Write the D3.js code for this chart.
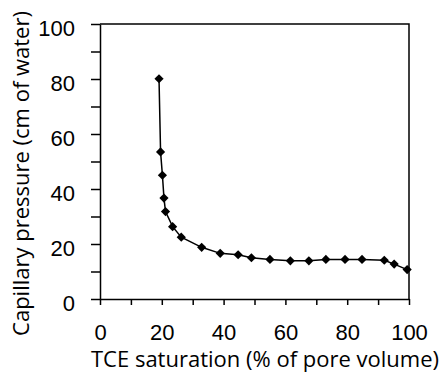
<!DOCTYPE html>
<html>
<head>
<meta charset="utf-8">
<script src="https://cdn.jsdelivr.net/npm/d3@7"></script>
<style>
  html, body { margin: 0; padding: 0; background: #fff; }
  svg { display: block; font-family: "Open Sans", Lato, sans-serif; }
</style>
</head>
<body>
<svg id="chart" width="440" height="373"></svg>
<script>
// Capillary pressure vs. TCE saturation
const saturation = [19.1, 19.6, 20.2, 20.7, 21.2, 23.5, 26.3, 32.9, 38.9, 44.7, 49.0, 55.0, 61.6, 67.6, 73.1, 79.3, 84.8, 92.0, 95.2, 99.4];
const pressure   = [80.1, 53.5, 45.0, 36.7, 31.8, 26.3, 22.5, 18.8, 16.6, 16.1, 15.0, 14.4, 13.9, 13.9, 14.4, 14.4, 14.4, 14.1, 12.7, 10.7];
const xTicks = [0, 10, 20, 30, 40, 50, 60, 70, 80, 90, 100];
const yTicks = [0, 10, 20, 30, 40, 50, 60, 70, 80, 90, 100];
const xLabel = "TCE saturation (% of pore volume)";
const yLabel = "Capillary pressure (cm of water)";

const svg = d3.select("#chart");
const margin = { left: 100, top: 24, right: 31, bottom: 74 };
const W = 440, H = 373;
const x = d3.scaleLinear().domain([0, 100]).range([margin.left, W - margin.right]);
const y = d3.scaleLinear().domain([0, 100]).range([H - margin.bottom, margin.top]);

const fontSize = 22;

// frame on top and right
svg.append("path")
  .attr("d", `M${x(0)},${y(100)}H${x(100)}V${y(0)}`)
  .attr("fill", "none").attr("stroke", "#000").attr("stroke-width", 1.5);

// x axis
const gx = svg.append("g").attr("transform", `translate(0,${y(0)})`)
  .call(d3.axisBottom(x).tickValues(xTicks).tickSize(6).tickSizeOuter(0)
    .tickFormat(d => d % 20 === 0 ? d : ""));
gx.select(".domain").attr("stroke-width", 1.5);
gx.selectAll(".tick line").attr("stroke-width", 1.5);
gx.selectAll(".tick text").attr("font-size", fontSize).attr("font-family", null)
  .attr("fill", "#000").attr("y", 41).attr("dy", null);

// y axis
const gy = svg.append("g").attr("transform", `translate(${x(0)},0)`)
  .call(d3.axisLeft(y).tickValues(yTicks).tickSize(9).tickSizeOuter(0)
    .tickFormat(d => d % 20 === 0 ? d : ""));
gy.select(".domain").attr("stroke-width", 1.5);
gy.selectAll(".tick line").attr("stroke-width", 1.5);
gy.selectAll(".tick text").attr("font-size", fontSize).attr("font-family", null)
  .attr("fill", "#000").attr("x", -25).attr("dy", "0.5em");

// axis titles
svg.append("text")
  .attr("x", 265).attr("y", 367)
  .attr("text-anchor", "middle").attr("font-size", fontSize)
  .text(xLabel);
svg.append("text")
  .attr("transform", `translate(29,${(y(0) + y(100)) / 2 + 12}) rotate(-90)`)
  .attr("text-anchor", "middle").attr("font-size", fontSize)
  .text(yLabel);

// series
const pts = saturation.map((s, i) => [s, pressure[i]]);
svg.append("path")
  .datum(pts)
  .attr("fill", "none").attr("stroke", "#000").attr("stroke-width", 1.5)
  .attr("d", d3.line().x(d => x(d[0])).y(d => y(d[1])));

const r = 4.6;
svg.append("g").selectAll("path.mk").data(pts).join("path")
  .attr("class", "mk")
  .attr("fill", "#000")
  .attr("d", d => `M${x(d[0])},${y(d[1]) - r}L${x(d[0]) + r},${y(d[1])}L${x(d[0])},${y(d[1]) + r}L${x(d[0]) - r},${y(d[1])}Z`);
</script>
</body>
</html>
